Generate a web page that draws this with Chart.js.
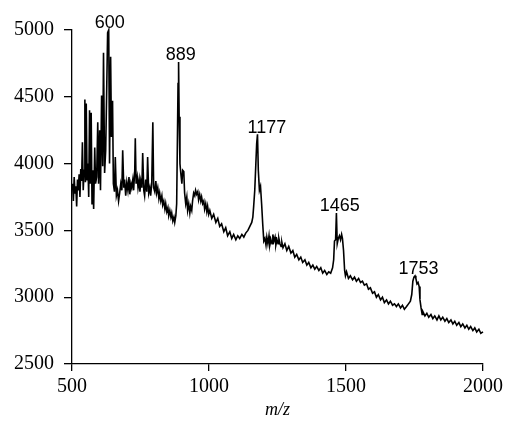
<!DOCTYPE html>
<html>
<head>
<meta charset="utf-8">
<script src="https://cdn.jsdelivr.net/npm/chart.js@4/dist/chart.umd.min.js"></script>
<style>
  html, body { margin: 0; padding: 0; background: #fff; }
  #c { display: block; }
</style>
</head>
<body>
<canvas id="c" width="507" height="430"></canvas>
<script>
// ---- data ----
const mz = [
  502,505,508,511,514,517,520,523,526,529,532,535,538,541,544,547,549,552,555,558,
  561,564,567,570,573,576,579,583,586,590,594,597,601,604,608,612,615,619,623,627,
  630,634,637,641,644,648,651,655,658,662,666,670,674,678,682,685,689,692,696,700,
  704,708,711,715,718,722,725,729,731,734,738,741,745,748,751,755,758,762,765,769,
  773,776,780,784,787,791,795,798,802,806,809,813,817,820,824,828,831,835,839,842,
  846,850,853,857,861,864,868,872,875,879,882,885,887,889,891,894,897,901,904,908,
  911,915,919,922,926,930,933,937,940,944,948,951,955,959,962,966,970,973,977,981,
  984,988,992,995,999,1003,1010,1017,1025,1032,1039,1046,1054,1061,1068,1076,1083,1090,1098,1105,
  1112,1120,1127,1134,1142,1149,1156,1160,1163,1167,1171,1174,1177,1180,1184,1188,1192,1196,1200,1204,
  1208,1211,1215,1219,1222,1226,1230,1233,1237,1241,1244,1248,1252,1255,1259,1263,1266,1270,1277,1284,
  1291,1299,1306,1313,1320,1328,1335,1342,1350,1357,1364,1372,1379,1386,1393,1401,1408,1415,1422,1430,
  1437,1444,1451,1455,1458,1462,1465,1468,1472,1476,1480,1484,1487,1491,1495,1498,1502,1509,1516,1524,
  1531,1538,1546,1553,1560,1567,1575,1582,1589,1597,1604,1611,1618,1626,1633,1640,1648,1655,1662,1670,
  1677,1684,1691,1699,1706,1713,1721,1728,1735,1740,1744,1748,1752,1755,1759,1763,1767,1770,1774,1778,
  1781,1788,1795,1802,1810,1817,1824,1832,1839,1846,1853,1861,1868,1875,1883,1890,1897,1904,1912,1919,
  1926,1934,1941,1948,1955,1963,1970,1977,1985,1992,2000
];
const intensity = [
  3850,3720,3900,3780,3830,3680,3880,3800,3920,3750,3960,3870,4160,3800,3950,4480,3860,4450,3880,4000,
  3750,4400,3850,4380,3700,3950,3660,4120,3850,3900,4310,3850,4250,3800,4510,3980,4830,3930,4100,4600,
  4980,5000,4000,4800,4200,4470,3850,3790,4050,3760,3800,3720,3780,3850,3800,4100,3820,3880,3760,3860,
  3800,3900,3770,3850,3820,3880,3800,3950,4190,3850,3900,3820,3880,3790,3870,3820,4080,3800,3760,3880,
  3790,4050,3780,3820,3760,3850,4310,3820,3790,3870,3780,3820,3740,3780,3720,3760,3690,3720,3660,3700,
  3640,3670,3610,3650,3600,3630,3570,3600,3560,3610,3700,4230,4600,4760,4350,4000,3930,3850,3950,3940,
  3780,3700,3750,3650,3700,3630,3680,3650,3720,3780,3760,3800,3770,3790,3730,3770,3720,3750,3700,3720,
  3660,3700,3640,3680,3620,3650,3590,3620,3560,3590,3530,3550,3490,3520,3460,3490,3440,3470,3430,3460,
  3440,3470,3450,3480,3500,3530,3560,3600,3680,3800,4000,4150,4220,3950,3800,3830,3700,3550,3420,3440,
  3390,3450,3400,3460,3390,3430,3400,3470,3420,3450,3390,3430,3400,3440,3400,3380,3410,3370,3400,3350,
  3380,3330,3350,3300,3320,3280,3300,3260,3280,3240,3260,3220,3240,3210,3230,3200,3220,3180,3200,3170,
  3190,3180,3220,3280,3420,3430,3630,3400,3440,3460,3430,3470,3440,3350,3200,3160,3190,3140,3160,3130,
  3150,3120,3140,3110,3120,3090,3100,3060,3070,3030,3040,3000,3020,2980,3000,2960,2980,2950,2970,2940,
  2950,2930,2950,2920,2940,2910,2930,2950,2970,3020,3120,3150,3160,3140,3100,3110,3080,2980,2920,2870,
  2890,2860,2880,2850,2870,2840,2860,2830,2860,2830,2850,2820,2840,2810,2830,2800,2820,2790,2810,2780,
  2800,2770,2790,2760,2780,2750,2770,2740,2760,2730,2740
];
const xTicks = [500, 1000, 1500, 2000];
const yTicks = [2500, 3000, 3500, 4000, 4500, 5000];
const peakLabels = ['600', '889', '1177', '1465', '1753'];
const peakLabelX = [638, 897, 1211, 1477, 1765];
const peakLabelY = [5015, 4775, 4229, 3645, 3174];
const xTitle = 'm/z';

const points = mz.map((v, i) => ({ x: v, y: intensity[i] }));

const peakLabelPlugin = {
  id: 'peakLabels',
  afterDatasetsDraw(chart) {
    const ctx = chart.ctx;
    const xs = chart.scales.x, ys = chart.scales.y;
    ctx.save();
    ctx.fillStyle = '#000';
    ctx.font = '18px "Liberation Sans", Arial, sans-serif';
    ctx.textAlign = 'center';
    ctx.textBaseline = 'alphabetic';
    peakLabels.forEach((t, i) => {
      ctx.fillText(t, xs.getPixelForValue(peakLabelX[i]), ys.getPixelForValue(peakLabelY[i]));
    });
    ctx.restore();
  }
};

const serif = '"Liberation Serif", "Times New Roman", serif';

new Chart(document.getElementById('c'), {
  type: 'line',
  data: {
    datasets: [{
      data: points,
      borderColor: '#000',
      borderWidth: 1.6,
      pointRadius: 0,
      tension: 0,
      fill: false,
      clip: 4
    }]
  },
  options: {
    responsive: false,
    animation: false,
    events: [],
    layout: { padding: { top: 30, right: 23, left: 0, bottom: 0 } },
    plugins: { legend: { display: false }, tooltip: { enabled: false } },
    scales: {
      x: {
        type: 'linear',
        min: 500, max: 2000,
        afterBuildTicks(s) { s.ticks = xTicks.map(v => ({ value: v })); },
        afterFit(s) { s.height = 66; },
        grid: { drawOnChartArea: false, drawTicks: true, tickLength: 7, color: '#000', lineWidth: 1.3 },
        border: { color: '#000', width: 1.3 },
        ticks: { color: '#000', font: { family: serif, size: 20 }, padding: 4, maxRotation: 0, callback: v => String(v) },
        title: { display: true, text: xTitle, color: '#000', font: { family: serif, size: 18, style: 'italic' }, padding: { top: 0, bottom: 9 } }
      },
      y: {
        min: 2500, max: 5000,
        afterBuildTicks(s) { s.ticks = yTicks.map(v => ({ value: v })); },
        afterFit(s) { s.width = 72; },
        grid: { drawOnChartArea: false, drawTicks: true, tickLength: 8, color: '#000', lineWidth: 1.3 },
        border: { color: '#000', width: 1.3 },
        ticks: { color: '#000', font: { family: serif, size: 20 }, padding: 10, callback: v => String(v) }
      }
    }
  },
  plugins: [peakLabelPlugin]
});
</script>
</body>
</html>
